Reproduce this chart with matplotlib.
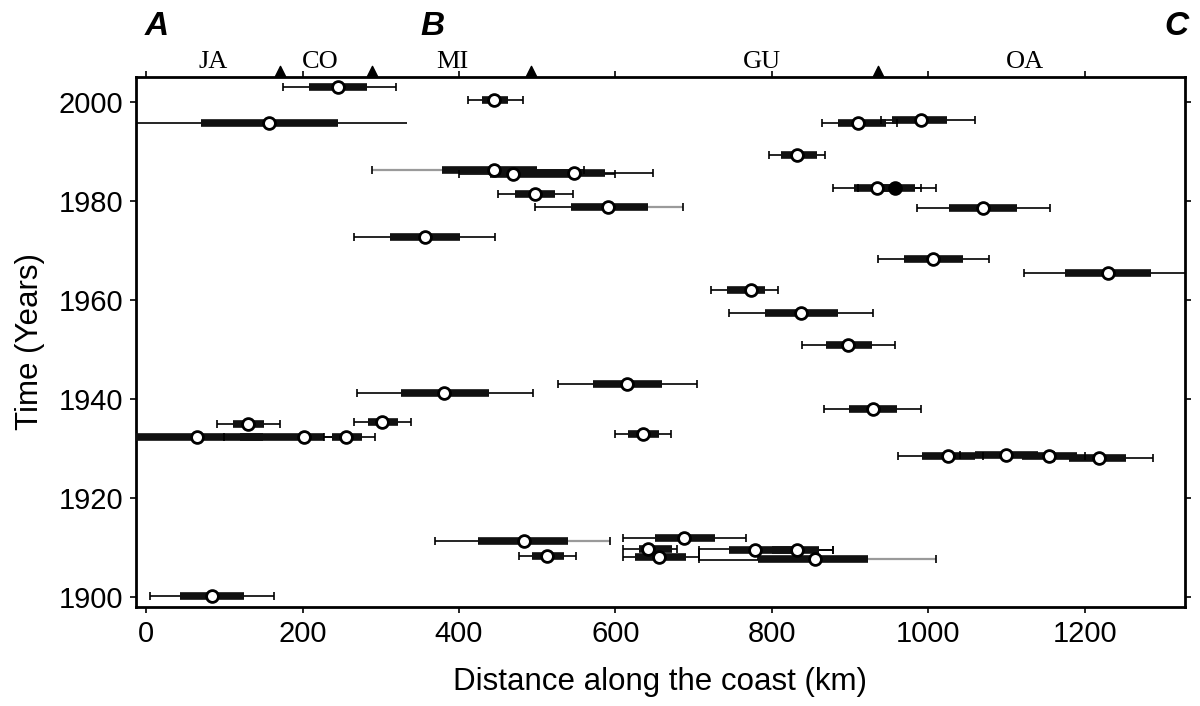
import matplotlib
matplotlib.use("Agg")
import matplotlib.pyplot as plt
from matplotlib.patches import Rectangle

# event: year, centre (km), thick range, thin (whisker) range
years   = [2002.9, 2000.4, 1995.7, 1986.1, 1985.4, 1985.6, 1981.4, 1978.8, 1972.7,
           1995.6, 1996.3, 1989.3, 1982.5, 1982.6, 1978.6, 1968.2, 1965.3, 1962.0,
           1957.3, 1950.8, 1942.9, 1941.1, 1934.9, 1935.3, 1932.2, 1932.2, 1932.2,
           1932.9, 1900.1, 1911.2, 1908.3, 1911.9, 1909.7, 1908.0, 1909.4, 1909.5,
           1907.7, 1938.0, 1928.4, 1928.6, 1928.4, 1928.0]
centers = [245, 445, 157, 445, 469, 547, 497, 591, 356,
           910, 990, 832, 934, 957, 1070, 1006, 1229, 773,
           837, 897, 615, 381, 130, 302, 65, 202, 256,
           635, 84, 483, 512, 687, 641, 656, 778, 832,
           855, 929, 1025, 1099, 1154, 1218]
thick_lo = [208, 429, 70, 378, 440, 500, 472, 543, 312,
            884, 953, 811, 905, 930, 1026, 969, 1174, 743,
            791, 869, 571, 326, 111, 283, -13, 120, 238,
            616, 43, 424, 493, 650, 630, 625, 745, 800,
            782, 898, 992, 1060, 1120, 1180]
thick_hi = [282, 463, 245, 500, 540, 586, 523, 641, 401,
            946, 1024, 858, 960, 983, 1113, 1044, 1284, 791,
            884, 928, 659, 438, 151, 322, 150, 228, 276,
            655, 125, 539, 534, 727, 672, 690, 830, 860,
            923, 960, 1060, 1140, 1190, 1252]
thin_lo = [175, 411, -13, 289, 400, 470, 450, 497, 266,
           864, 940, 796, 878, 910, 986, 935, 1122, 722,
           745, 839, 527, 269, 90, 266, -13, 100, 228,
           600, 5, 369, 477, 610, 610, 610, 707, 780,
           707, 867, 961, 1040, 1100, 1160]
thin_hi = [320, 482, 334, 560, 600, 648, 546, 686, 446,
           960, 1059, 868, 990, 1010, 1156, 1077, 1328, 808,
           929, 957, 704, 494, 171, 339, 150, 250, 292,
           671, 164, 593, 549, 767, 679, 707, 878, 878,
           1010, 991, 1070, 1160, 1200, 1287]
cap_lo = [True] * len(years)
cap_hi = [True] * len(years)
cap_lo[2] = cap_hi[2] = False
cap_hi[16] = False
cap_lo[24] = cap_hi[24] = False
filled = [False] * len(years)
filled[13] = True

# faint grey pieces of some whiskers
grey_year = [1986.1, 1978.8, 1911.2, 1907.7]
grey_lo = [289, 641, 539, 923]
grey_hi = [380, 686, 593, 1010]

# open (white) box in the 1908 cluster
box_x = [707, 782]
box_y = [1907.3, 1909.6]

# segment labels and boundaries along the top
seg_names = ["JA", "CO", "MI", "GU", "OA"]
seg_pos = [86, 222, 392, 787, 1123]
bounds = [171, 289, 492, 935]

fig = plt.figure(figsize=(12, 7.06), dpi=100)
ax = fig.add_axes([0.1133, 0.1402, 0.8742, 0.7508])

ax.add_patch(Rectangle((box_x[0], box_y[0]), box_x[1] - box_x[0], box_y[1] - box_y[0],
                       facecolor='white', edgecolor='black', lw=1.2, zorder=3))

ax.hlines(years, thin_lo, thin_hi, color='black', lw=1.2, zorder=2)
ax.hlines(grey_year, grey_lo, grey_hi, color='#9a9a9a', lw=1.6, zorder=2.5)
ax.hlines(years, thick_lo, thick_hi, color='#111111', lw=5.5, zorder=4)
for i in range(len(years)):
    if cap_lo[i]:
        ax.plot(thin_lo[i], years[i], '|', color='black', ms=6, mew=1.2, zorder=4)
    if cap_hi[i]:
        ax.plot(thin_hi[i], years[i], '|', color='black', ms=6, mew=1.2, zorder=4)
    fc = 'black' if filled[i] else 'white'
    ax.plot(centers[i], years[i], 'o', mfc=fc, mec='black', ms=8.5, mew=2, zorder=6)

ax.set_xlim(-13, 1328)
ax.set_ylim(1897.9, 2005.0)
ax.set_xticks(range(0, 1201, 200))
ax.set_yticks(range(1900, 2001, 20))
ax.tick_params(direction='out', length=4, width=1.2, top=True, right=True,
               labelsize=21, pad=5)
for s in ax.spines.values():
    s.set_linewidth(2)

tf = 'Liberation Sans'
for lab in ax.get_xticklabels() + ax.get_yticklabels():
    lab.set_family(tf)
ax.set_xlabel("Distance along the coast (km)", fontsize=22.5, family=tf, labelpad=14)
ax.set_ylabel("Time (Years)", fontsize=22.5, family=tf, labelpad=10)

trans = ax.get_xaxis_transform()
ax.scatter(bounds, [1.011] * len(bounds), marker='^', s=55, color='black',
           transform=trans, clip_on=False, zorder=7)
for name, x in zip(seg_names, seg_pos):
    ax.text(x, 1.007, name, transform=trans, ha='center', va='bottom',
            fontsize=19, family='Liberation Serif')

for letter, fx in zip(["A", "B", "C"], [0.131, 0.36, 0.98]):
    fig.text(fx, 0.963, letter, fontsize=24, fontweight='bold', fontstyle='italic',
             family='Liberation Sans', ha='center', va='center')

fig.savefig("out.png", dpi=100)
